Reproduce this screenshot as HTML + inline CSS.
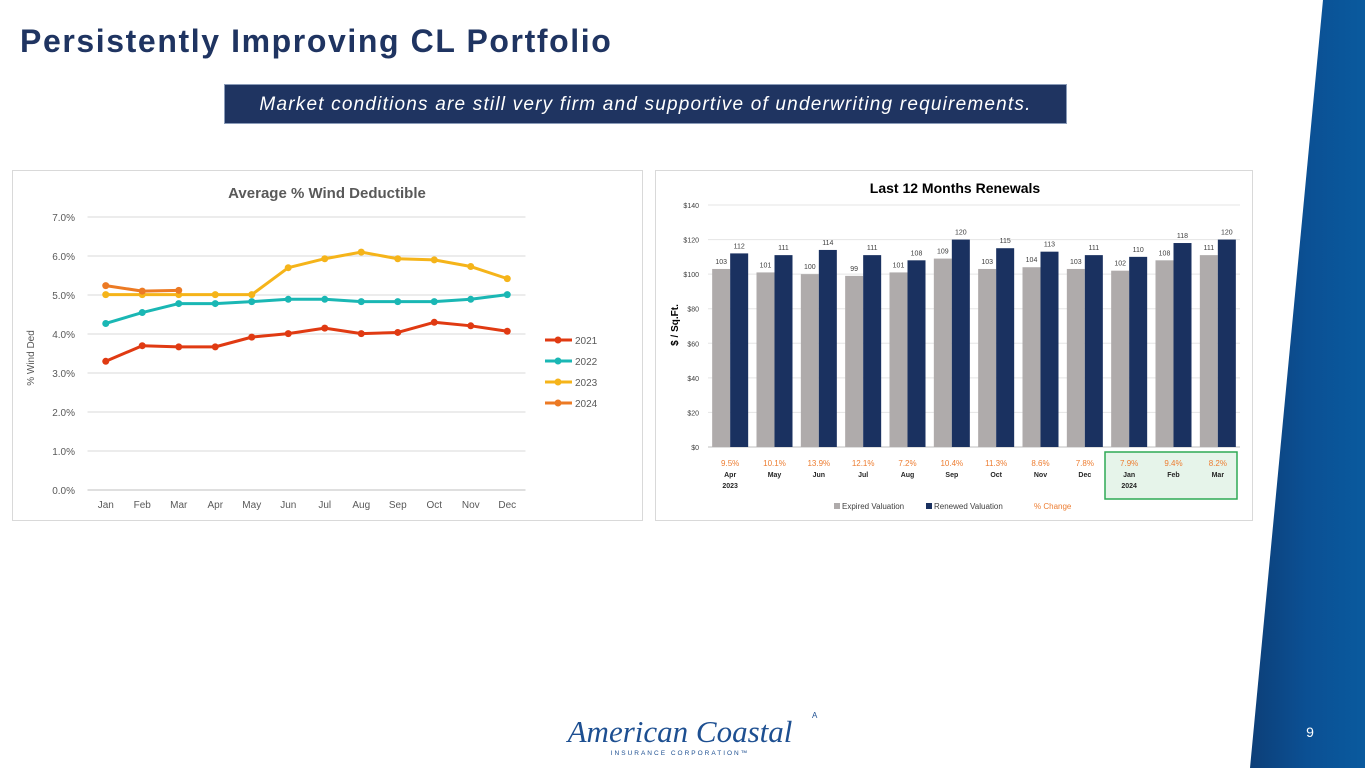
<!DOCTYPE html>
<html><head><meta charset="utf-8"><style>
html,body{margin:0;padding:0;width:1365px;height:768px;overflow:hidden;background:#fff;font-family:"Liberation Sans",sans-serif}
#title{position:absolute;left:20px;top:23px;font-size:32px;font-weight:bold;color:#1f3461;letter-spacing:1.6px;margin:0;white-space:nowrap}
#sub{position:absolute;left:224px;top:84px;width:843px;height:40px;background:#1f3461;color:#fff;font-style:italic;font-size:19px;letter-spacing:1.2px;line-height:40px;text-align:center;box-sizing:border-box;border:1px solid #8a9bb8;white-space:nowrap}
svg{position:absolute;left:0;top:0}
</style></head><body>
<svg width="1365" height="768">
<defs><linearGradient id="bg" x1="0" x2="1" y1="0" y2="0"><stop offset="0" stop-color="#0d3f78"/><stop offset="0.5" stop-color="#0b5094"/><stop offset="1" stop-color="#0a5a9e"/></linearGradient></defs>
<polygon points="1323,0 1365,0 1365,768 1250,768" fill="url(#bg)"/>
<text x="1310" y="737" fill="#fff" font-size="14" text-anchor="middle">9</text>
<text x="680" y="742" fill="#1d4f91" font-size="31" font-style="italic" font-family="Liberation Serif,serif" text-anchor="middle">American Coastal</text>
<text x="812" y="718" fill="#1d4f91" font-size="8">A</text>
<text x="680" y="755" fill="#1d4f91" font-size="6.5" letter-spacing="2" text-anchor="middle">INSURANCE CORPORATION™</text>
</svg>
<h1 id="title">Persistently Improving CL Portfolio</h1>
<div id="sub">Market conditions are still very firm and supportive of underwriting requirements.</div>
<svg id="c1" width="1365" height="768"></svg>
<svg id="c2" width="1365" height="768"></svg>
<script>
const months=["Jan","Feb","Mar","Apr","May","Jun","Jul","Aug","Sep","Oct","Nov","Dec"];
const yTicks1=[0,1,2,3,4,5,6,7];
const s2021=[3.3,3.7,3.67,3.67,3.92,4.01,4.15,4.01,4.04,4.3,4.21,4.07];
const s2022=[4.27,4.55,4.78,4.78,4.83,4.89,4.89,4.83,4.83,4.83,4.89,5.01];
const s2023=[5.01,5.01,5.01,5.01,5.01,5.7,5.93,6.1,5.93,5.9,5.73,5.42];
const s2024=[5.24,5.1,5.12];
const seriesNames=["2021","2022","2023","2024"];
const seriesColors=["#e03a12","#1ab7b4","#f5b41a","#ec7a24"];

const cats2=["Apr","May","Jun","Jul","Aug","Sep","Oct","Nov","Dec","Jan","Feb","Mar"];
const years2=["2023","","","","","","","","","2024","",""];
const expired=[103,101,100,99,101,109,103,104,103,102,108,111];
const renewed=[112,111,114,111,108,120,115,113,111,110,118,120];
const pctChange=["9.5%","10.1%","13.9%","12.1%","7.2%","10.4%","11.3%","8.6%","7.8%","7.9%","9.4%","8.2%"];
const yTicks2=[0,20,40,60,80,100,120,140];

const NS="http://www.w3.org/2000/svg";
function mk(p,t,a,txt){const e=document.createElementNS(NS,t);for(const k in a)e.setAttribute(k,a[k]);if(txt!==undefined)e.textContent=txt;p.appendChild(e);return e;}

// Chart 1
const c1=document.getElementById('c1');
mk(c1,'rect',{x:12.5,y:170.5,width:630,height:350,fill:'#fff',stroke:'#d9d9d9'});
const L1=87.5,R1=525.5,T1=217,B1=490;
const x1=i=>L1+(R1-L1)/12*(i+0.5);
const y1=v=>B1-(B1-T1)*v/7;
let t=mk(c1,'text',{x:327,y:198,'font-size':15,'font-weight':'bold',fill:'#595959','text-anchor':'middle'},'Average % Wind Deductible');


yTicks1.forEach(v=>{
 const g=mk(c1,'line',{x1:L1,x2:R1,y1:y1(v),y2:y1(v),stroke:v?'#d9d9d9':'#bfbfbf'});
 
 
 const l=mk(c1,'text',{x:75,y:y1(v)+4,'font-size':10,fill:'#595959','text-anchor':'end'},v.toFixed(1)+'%');
 
 
});
months.forEach((m,i)=>{
 const l=mk(c1,'text',{x:x1(i),y:508,'font-size':10,fill:'#595959','text-anchor':'middle'},m);
 
 
});
t=mk(c1,'text',{x:0,y:0,'font-size':10,fill:'#595959','text-anchor':'middle',transform:'translate(34,358) rotate(-90)'},'% Wind Ded');


[s2021,s2022,s2023,s2024].forEach((s,k)=>{
 const pts=s.map((v,i)=>x1(i)+','+y1(v)).join(' ');
 const pl=mk(c1,'polyline',{points:pts,fill:'none',stroke:seriesColors[k],'stroke-width':3,'stroke-linejoin':'round'});
 
 
 s.forEach((v,i)=>{
  const c=mk(c1,'circle',{cx:x1(i),cy:y1(v),r:3.5,fill:seriesColors[k]});
  
  
 });
 const ly=340+k*21;
 const g=mk(c1,'g',{});
 
 
 mk(g,'line',{x1:545,x2:572,y1:ly,y2:ly,stroke:seriesColors[k],'stroke-width':3});
 mk(g,'circle',{cx:558,cy:ly,r:3.5,fill:seriesColors[k]});
 mk(g,'text',{x:575,y:ly+4,'font-size':10,fill:'#595959'},seriesNames[k]);
});

// Chart 2
const c2=document.getElementById('c2');
mk(c2,'rect',{x:655.5,y:170.5,width:597,height:350,fill:'#fff',stroke:'#d9d9d9'});
const L2=708,R2=1240,T2=205,B2=447;
const bw=(R2-L2)/12;
const x2=i=>L2+bw*(i+0.5);
const y2=v=>B2-(B2-T2)*v/140;
mk(c2,'rect',{x:1105,y:452,width:132,height:47,fill:'#e6f4ea',stroke:'#2eaa55','stroke-width':1.5});
t=mk(c2,'text',{x:955,y:193,'font-size':14,'font-weight':'bold',fill:'#000','text-anchor':'middle'},'Last 12 Months Renewals');


yTicks2.forEach(v=>{
 const g=mk(c2,'line',{x1:L2,x2:R2,y1:y2(v),y2:y2(v),stroke:v?'#e5e5e5':'#bfbfbf'});
 
 
 const l=mk(c2,'text',{x:699,y:y2(v)+3,'font-size':7,fill:'#404040','text-anchor':'end'},'$'+v);
 
 
});
t=mk(c2,'text',{x:0,y:0,'font-size':10,'font-weight':'bold',fill:'#000','text-anchor':'middle',transform:'translate(678,325) rotate(-90)'},'$ / Sq.Ft.');


cats2.forEach((m,i)=>{
 const cx=x2(i);
 const b1=mk(c2,'rect',{x:cx-18,y:y2(expired[i]),width:18,height:B2-y2(expired[i]),fill:'#afabab'});
 
 
 const b2=mk(c2,'rect',{x:cx,y:y2(renewed[i]),width:18,height:B2-y2(renewed[i]),fill:'#1a3160'});
 
 
 const l1=mk(c2,'text',{x:cx-9,y:y2(expired[i])-5,'font-size':7,fill:'#404040','text-anchor':'middle'},expired[i]);
 
 
 const l2=mk(c2,'text',{x:cx+9,y:y2(renewed[i])-5,'font-size':7,fill:'#404040','text-anchor':'middle'},renewed[i]);
 
 
 const p=mk(c2,'text',{x:cx,y:466,'font-size':8,fill:'#ed7d31','text-anchor':'middle'},pctChange[i]);
 
 
 const ml=mk(c2,'text',{x:cx,y:477,'font-size':7,'font-weight':'bold',fill:'#262626','text-anchor':'middle'},m);
 
 
 if(years2[i]){const yl=mk(c2,'text',{x:cx,y:488,'font-size':7,'font-weight':'bold',fill:'#262626','text-anchor':'middle'},years2[i]);
 
 }
});
const lg=mk(c2,'g',{});


mk(lg,'rect',{x:834,y:503,width:6,height:6,fill:'#afabab'});
mk(lg,'text',{x:842,y:509,'font-size':8,fill:'#404040'},'Expired Valuation');
mk(lg,'rect',{x:926,y:503,width:6,height:6,fill:'#1a3160'});
mk(lg,'text',{x:934,y:509,'font-size':8,fill:'#404040'},'Renewed Valuation');
mk(lg,'text',{x:1034,y:509,'font-size':8,fill:'#ed7d31'},'% Change');
</script>
</body></html>
